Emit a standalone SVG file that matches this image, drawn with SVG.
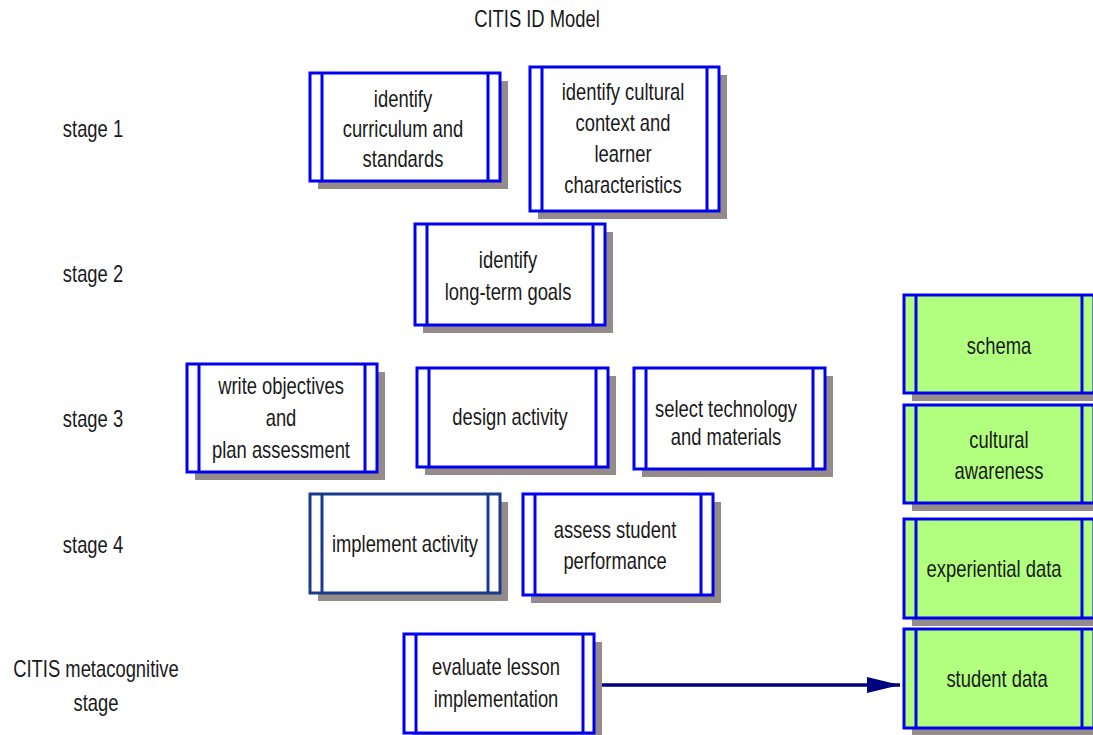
<svg xmlns="http://www.w3.org/2000/svg" width="1093" height="735" viewBox="0 0 1093 735">
<style>
.sh{fill:#958b8b}
.bx{fill:#ffffff;stroke:#0000ee;stroke-width:3}
.bxd{fill:#ffffff;stroke:#1a3a8c;stroke-width:3}
.gr{fill:#b2ff80;stroke:#0000ee;stroke-width:3}
.ln{stroke:#0000ee;stroke-width:3}
.lnd{stroke:#1a3a8c;stroke-width:3}
text{font-family:"Liberation Sans",Arial,sans-serif;font-size:23px;fill:#1a1a1a;text-anchor:middle}
.conn{stroke:#000080;stroke-width:3.5;fill:none}
</style>
<defs>
<marker id="arr" markerUnits="userSpaceOnUse" viewBox="0 0 33 16" markerWidth="33" markerHeight="16" refX="33" refY="8" orient="auto">
<path d="M0,0 L33,8 L0,16 z" fill="#000080"/>
</marker>
</defs>
<rect width="1093" height="735" fill="#ffffff"/>
<g id="labels">
<text transform="translate(537,27) scale(0.8,1)">CITIS ID Model</text>
<text transform="translate(93,137) scale(0.8,1)">stage 1</text>
<text transform="translate(93,282) scale(0.8,1)">stage 2</text>
<text transform="translate(93,427) scale(0.8,1)">stage 3</text>
<text transform="translate(93,553) scale(0.8,1)">stage 4</text>
<text transform="translate(96,677) scale(0.8,1)"><tspan x="0">CITIS metacognitive</tspan><tspan x="0" dy="34">stage</tspan></text>
</g>
<g id="connectors">
<line class="conn" x1="594" y1="685" x2="900" y2="685" marker-end="url(#arr)"/>
</g>
<g id="n1">
<rect class="sh" x="318" y="81" width="190" height="108"/>
<rect class="bx" x="310" y="73" width="190" height="108"/>
<line class="ln" x1="322" y1="73" x2="322" y2="181"/><line class="ln" x1="488" y1="73" x2="488" y2="181"/>
<text transform="translate(403,107) scale(0.8,1)"><tspan x="0">identify</tspan><tspan x="0" dy="30">curriculum and</tspan><tspan x="0" dy="30">standards</tspan></text>
</g>
<g id="n2">
<rect class="sh" x="538" y="75" width="189" height="144"/>
<rect class="bx" x="530" y="67" width="189" height="144"/>
<line class="ln" x1="542" y1="67" x2="542" y2="211"/><line class="ln" x1="707" y1="67" x2="707" y2="211"/>
<text transform="translate(623,100) scale(0.8,1)"><tspan x="0">identify cultural</tspan><tspan x="0" dy="31">context and</tspan><tspan x="0" dy="31">learner</tspan><tspan x="0" dy="31">characteristics</tspan></text>
</g>
<g id="n3">
<rect class="sh" x="423" y="232" width="190" height="101"/>
<rect class="bx" x="415" y="224" width="190" height="101"/>
<line class="ln" x1="427" y1="224" x2="427" y2="325"/><line class="ln" x1="593" y1="224" x2="593" y2="325"/>
<text transform="translate(508,268) scale(0.8,1)"><tspan x="0">identify</tspan><tspan x="0" dy="32">long-term goals</tspan></text>
</g>
<g id="n4">
<rect class="sh" x="195" y="372" width="190" height="108"/>
<rect class="bx" x="187" y="364" width="190" height="108"/>
<line class="ln" x1="199" y1="364" x2="199" y2="472"/><line class="ln" x1="365" y1="364" x2="365" y2="472"/>
<text transform="translate(281,394) scale(0.8,1)"><tspan x="0">write objectives</tspan><tspan x="0" dy="32">and</tspan><tspan x="0" dy="32">plan assessment</tspan></text>
</g>
<g id="n5">
<rect class="sh" x="425" y="376" width="191" height="99"/>
<rect class="bx" x="417" y="368" width="191" height="99"/>
<line class="ln" x1="429" y1="368" x2="429" y2="467"/><line class="ln" x1="596" y1="368" x2="596" y2="467"/>
<text transform="translate(510,425) scale(0.8,1)">design activity</text>
</g>
<g id="n6">
<rect class="sh" x="642" y="376" width="191" height="101"/>
<rect class="bx" x="634" y="368" width="191" height="101"/>
<line class="ln" x1="646" y1="368" x2="646" y2="469"/><line class="ln" x1="813" y1="368" x2="813" y2="469"/>
<text transform="translate(726,417) scale(0.8,1)"><tspan x="0">select technology</tspan><tspan x="0" dy="28">and materials</tspan></text>
</g>
<g id="n7">
<rect class="sh" x="318" y="502" width="190" height="99"/>
<rect class="bxd" x="310" y="494" width="190" height="99"/>
<line class="lnd" x1="322" y1="494" x2="322" y2="593"/><line class="lnd" x1="488" y1="494" x2="488" y2="593"/>
<text transform="translate(405,552) scale(0.8,1)">implement activity</text>
</g>
<g id="n8">
<rect class="sh" x="531" y="502" width="190" height="101"/>
<rect class="bx" x="523" y="494" width="190" height="101"/>
<line class="ln" x1="535" y1="494" x2="535" y2="595"/><line class="ln" x1="701" y1="494" x2="701" y2="595"/>
<text transform="translate(615,538) scale(0.8,1)"><tspan x="0">assess student</tspan><tspan x="0" dy="31">performance</tspan></text>
</g>
<g id="n9">
<rect class="sh" x="412" y="642" width="190" height="100"/>
<rect class="bx" x="404" y="634" width="190" height="99"/>
<line class="ln" x1="416" y1="634" x2="416" y2="733"/><line class="ln" x1="583" y1="634" x2="583" y2="733"/>
<text transform="translate(496,675) scale(0.8,1)"><tspan x="0">evaluate lesson</tspan><tspan x="0" dy="32">implementation</tspan></text>
</g>
<g id="g1">
<rect class="sh" x="912" y="303" width="190" height="98"/>
<rect class="gr" x="904" y="295" width="190" height="98"/>
<line class="ln" x1="916" y1="295" x2="916" y2="393"/><line class="ln" x1="1082" y1="295" x2="1082" y2="393"/>
<text transform="translate(999,354) scale(0.8,1)">schema</text>
</g>
<g id="g2">
<rect class="sh" x="912" y="413" width="190" height="98"/>
<rect class="gr" x="904" y="405" width="190" height="98"/>
<line class="ln" x1="916" y1="405" x2="916" y2="503"/><line class="ln" x1="1082" y1="405" x2="1082" y2="503"/>
<text transform="translate(999,448) scale(0.8,1)"><tspan x="0">cultural</tspan><tspan x="0" dy="31">awareness</tspan></text>
</g>
<g id="g3">
<rect class="sh" x="912" y="527" width="190" height="99"/>
<rect class="gr" x="904" y="519" width="190" height="99"/>
<line class="ln" x1="916" y1="519" x2="916" y2="618"/><line class="ln" x1="1082" y1="519" x2="1082" y2="618"/>
<text transform="translate(994,577) scale(0.8,1)">experiential data</text>
</g>
<g id="g4">
<rect class="sh" x="912" y="637" width="190" height="99"/>
<rect class="gr" x="904" y="629" width="190" height="99"/>
<line class="ln" x1="916" y1="629" x2="916" y2="728"/><line class="ln" x1="1082" y1="629" x2="1082" y2="728"/>
<text transform="translate(997,687) scale(0.8,1)">student data</text>
</g>
</svg>
